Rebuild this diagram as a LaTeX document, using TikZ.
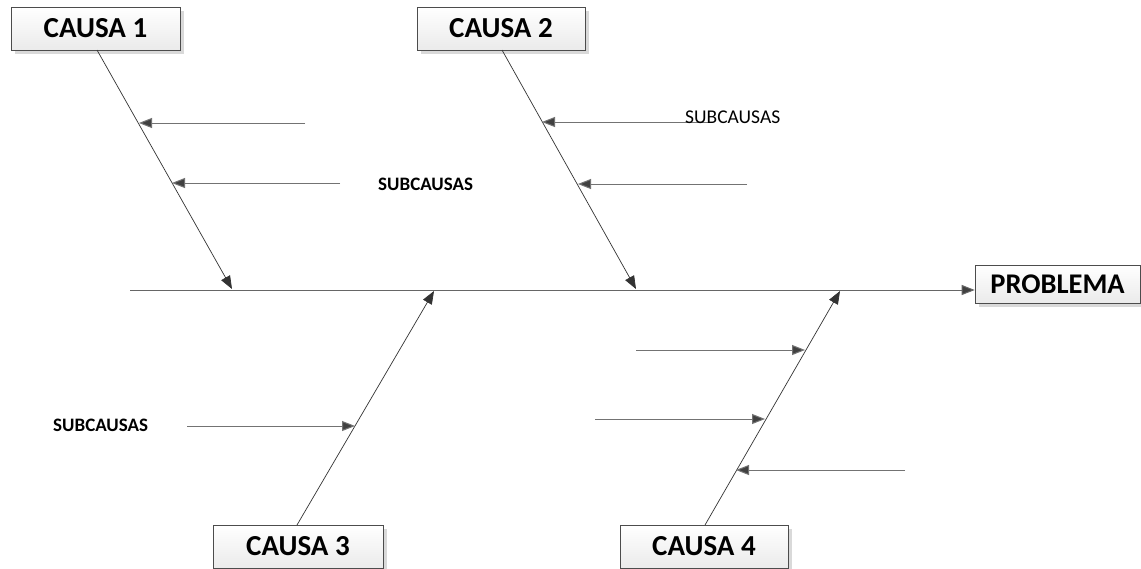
\documentclass[tikz,border=0pt]{standalone}
\usepackage{fontspec}
\setmainfont{Carlito}
\usetikzlibrary{arrows.meta,shadows}
\begin{document}
\begin{tikzpicture}[x=1pt,y=-1pt,
  causebox/.style={draw=black!70, line width=0.6pt, top color=white, bottom color=black!8,
    drop shadow={shadow xshift=4pt, shadow yshift=-4pt, fill=black!15, opacity=1},
    minimum height=43pt, inner sep=0pt, font=\fontsize{29}{29}\selectfont\bfseries},
  bone/.style={draw=black!80, line width=0.7pt, -{Triangle[length=13pt,width=10pt]}},
  sub/.style={draw=black!55, line width=1pt, -{Triangle[length=13pt,width=10pt,fill=black!75]}},
  spine/.style={draw=black!60, line width=1pt, -{Triangle[length=13pt,width=10pt,fill=black!75]}},
  sublabel/.style={font=\fontsize{19}{19}\selectfont\bfseries, inner sep=0pt},
  sublabelr/.style={font=\fontsize{19.5}{19.5}\selectfont, inner sep=0pt}
]
\useasboundingbox (0,0) rectangle (1141,568);
\fill[white] (0,0) rectangle (1141,568);

% boxes
\node[causebox, minimum width=169pt] (c1) at (95.5,28.5) {CAUSA 1};
\node[causebox, minimum width=168pt] (c2) at (501,28.5) {CAUSA 2};
\node[causebox, minimum width=170pt] (c3) at (298,546.5) {CAUSA 3};
\node[causebox, minimum width=168pt] (c4) at (704,546.5) {CAUSA 4};
\node[causebox, minimum width=165pt, minimum height=38pt, font=\fontsize{28.5}{28.5}\selectfont\bfseries] (prob) at (1057.5,284) {PROBLEMA};

% spine
\coordinate (s0) at (130,290);
\draw[spine] (s0) -- (prob.west |- s0);

% bones
\coordinate (m1) at (232,289);
\coordinate (m2) at (636,289);
\coordinate (m3) at (434,291);
\coordinate (m4) at (840,291);
\draw[bone] (97,50) coordinate (b1) -- (m1);
\draw[bone] (502,50) coordinate (b2) -- (m2);
\draw[bone] (297,525) coordinate (b3) -- (m3);
\draw[bone] (705,525) coordinate (b4) -- (m4);

% sub-cause arrows
\coordinate (a1s) at (305,123); \coordinate (a1e) at (139,123);
\coordinate (a2s) at (340,183); \coordinate (a2e) at (172,183);
\coordinate (a3s) at (713,122); \coordinate (a3e) at (542,122);
\coordinate (a4s) at (747,184); \coordinate (a4e) at (578,184);
\coordinate (a5s) at (187,426); \coordinate (a5e) at (355,426);
\coordinate (a6s) at (636,350); \coordinate (a6e) at (805,350);
\coordinate (a7s) at (595,419); \coordinate (a7e) at (765,419);
\coordinate (a8s) at (905,470); \coordinate (a8e) at (736,470);
\foreach \i in {1,...,8}{
  \draw[sub] (a\i s) -- (a\i e);
}

% labels
\node[sublabel, anchor=west] (l1) at (378,184) {SUBCAUSAS};
\node[sublabelr, anchor=west] (l2) at (685,117) {SUBCAUSAS};
\node[sublabel, anchor=west] (l3) at (53,425) {SUBCAUSAS};
\end{tikzpicture}
\end{document}
